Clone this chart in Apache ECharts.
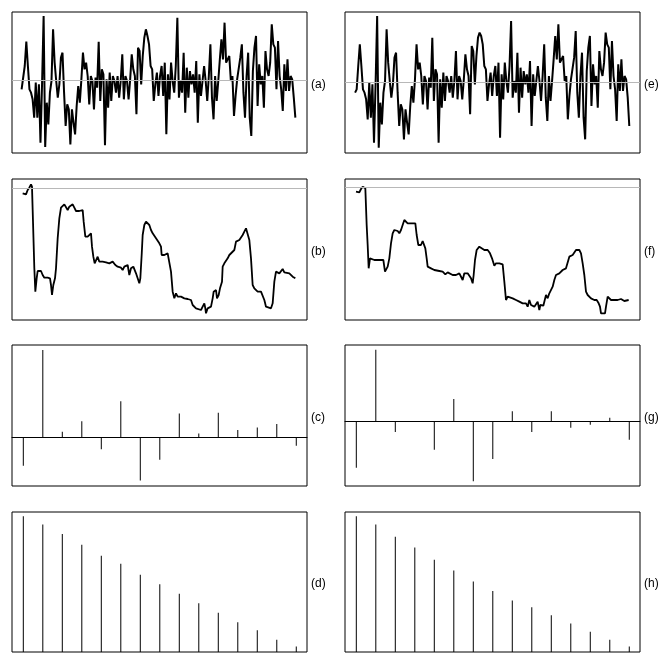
<!DOCTYPE html>
<html>
<head>
<meta charset="utf-8">
<script src="https://cdn.jsdelivr.net/npm/echarts@6/dist/echarts.min.js"></script>
<style>
  html, body { margin: 0; padding: 0; background: #fff; }
  #main { width: 666px; height: 665px; }
</style>
</head>
<body>
<div id="main"></div>
<script>
// (a) and (e): raw series, grey line is the zero level
const seriesA = [-27,-27,43,116,43,-27,-37,-57,-112,-7,-112,-12,-187,-12,193,-200,-67,-132,-37,-2,
  153,53,-2,-52,-12,68,83,-37,-137,-72,-87,-192,-87,-127,-162,-77,-17,-67,3,83,
  33,53,13,-72,13,-2,-87,8,-22,116,-62,33,18,-195,3,-82,23,-62,13,-2,
  -37,13,-52,-2,78,-57,13,-2,-57,3,78,33,13,-102,98,88,-12,73,128,153,
  133,108,43,33,-62,-12,23,-47,13,43,-47,53,-162,18,-57,53,-2,-37,43,188,
  -52,-2,-37,83,-97,38,-52,28,-12,18,-37,58,-127,18,-47,-2,43,-2,-62,13,
  108,-52,-117,13,-62,-2,63,123,63,173,53,48,73,-2,13,-107,-47,3,-2,68,
  108,-37,-112,13,83,-112,-167,28,98,133,-77,48,-12,13,-82,88,33,13,53,168,
  108,98,-27,118,13,-27,-92,48,-32,63,-32,13,3,-52,-112]
const seriesE = [-30,-20,50,115,50,-20,-30,-50,-110,0,-105,-5,-180,-5,200,-195,-60,-125,-30,5,
  160,60,5,-45,-5,75,90,-30,-130,-65,-80,-170,-80,-120,-155,-70,-10,-60,10,115,
  40,60,20,-65,20,5,-80,15,-15,135,-55,40,25,-180,10,-75,30,-55,20,5,
  -30,20,-45,5,95,-50,20,5,-50,10,85,40,20,-95,110,95,-5,80,135,150,
  140,115,50,40,-55,-5,30,-40,20,50,-40,60,-165,25,-50,60,5,-30,50,185,
  -45,5,-30,90,-90,45,-45,35,-5,25,-30,65,-130,25,-40,5,50,5,-55,20,
  115,-45,-115,20,-55,5,70,140,70,175,60,55,80,5,20,-110,-40,10,5,75,
  155,-30,-105,20,90,-105,-170,35,105,140,-70,55,-5,20,-75,95,40,20,60,150,
  115,105,-20,125,20,-20,-115,55,-25,70,-25,20,10,-45,-130]
// (b) and (f): slow level series, grey line is the reference level
const timeB = [0,5,10,15,20,25,28,30,35,38,42,45,55,60,65,75,82,85,88,92,97,100,105,110,115,120,125,130,135,140,
  145,150,155,160,165,170,180,183,188,195,200,205,208,212,216,220,225,230,240,250,260,265,270,278,285,290,295,300,305,310,
  315,320,325,328,332,340,345,350,353,357,360,365,370,375,380,385,390,400,410,415,417,425,435,440,445,450,455,460,465,475,
  485,495,505,510,515,520,525,535,540,545,548,550,555,560,565,570,573,577,580,583,588,592,598,600,605,610,615,620,625,635,
  640,645,650,655,660,665,670,675,680,685,690,695,705,715,720,725,730,735,745,750,755,760,765,770,775,780,785,790,800,805,
  810,815,818]
const levelB = [380,375,377,390,397,407,400,330,155,85,125,147,147,135,127,127,125,105,75,105,125,155,245,305,337,343,347,350,330,340,
  335,347,337,327,328,327,330,295,250,250,250,260,220,190,170,175,190,175,175,173,170,165,175,165,160,155,157,150,160,155,
  165,135,155,160,160,140,125,110,125,195,255,285,295,290,285,270,260,245,230,220,195,195,200,195,145,85,65,80,70,70,
  65,63,60,45,50,35,35,30,40,50,35,20,35,30,40,65,85,85,90,65,75,95,115,160,170,170,185,195,195,210,
  235,240,240,243,255,265,275,270,240,185,105,95,85,85,80,60,40,35,35,50,115,145,140,140,145,153,143,140,140,135,
  130,133,125]
const timeF = [0,5,10,15,20,25,28,32,35,38,42,47,55,65,75,82,87,90,95,100,105,110,115,120,125,130,135,140,145,150,
  155,160,170,178,182,187,195,200,205,208,212,215,220,225,230,235,240,250,260,268,275,280,290,300,310,315,320,325,330,335,
  340,345,350,353,357,362,370,375,385,395,402,408,412,415,420,430,440,445,450,455,460,470,480,490,500,510,515,520,525,535,
  540,545,550,553,557,562,567,570,575,580,585,590,595,600,605,610,620,630,635,640,645,650,655,660,665,670,675,680,685,690,
  695,705,715,722,728,732,735,740,747,750,755,760,765,775,780,785,790,795,800,805,810,818]
const levelF = [385,380,383,393,400,405,395,285,225,155,185,190,180,180,180,180,145,150,160,185,230,260,270,273,267,260,270,285,300,300,
  290,287,290,290,255,225,225,237,240,215,185,160,155,155,150,150,150,147,145,137,143,145,135,135,140,145,120,140,145,140,
  140,125,110,135,180,210,220,215,210,210,200,185,180,163,170,170,167,115,60,70,75,65,60,55,50,50,40,60,45,40,
  38,55,30,45,50,43,63,75,65,80,80,100,120,135,135,140,150,155,160,190,195,195,200,210,213,210,200,170,135,85,
  75,65,60,60,50,40,20,20,20,40,70,65,60,60,57,60,65,63,60,57,57,60]
// (c) (d) (g) (h): coefficients by lag
const lags = [0,1,2,3,4,5,6,7,8,9,10,11,12,13,14]
const stemsC = [-0.33,1.0,0.06,0.18,-0.14,0.41,-0.50,-0.26,0.27,0.04,0.28,0.08,0.11,0.15,-0.10]
const stemsD = [1.0,0.94,0.87,0.79,0.71,0.65,0.57,0.50,0.43,0.36,0.29,0.22,0.16,0.09,0.04]
const stemsG = [-0.65,1.0,-0.15,0,-0.40,0.31,-0.84,-0.53,0.14,-0.15,0.14,-0.09,-0.05,0.05,-0.26]
const stemsH = [1.0,0.94,0.85,0.77,0.68,0.60,0.52,0.45,0.38,0.33,0.27,0.21,0.15,0.09,0.04]

const myChart = echarts.init(document.getElementById('main'))

const cols = [12, 345]
const rows = [[12, 141], [179, 141], [345, 141], [512, 140]]

const grids = []
const xAxes = []
const yAxes = []
const series = []
const texts = []

function greyLine(y) {
  return {
    silent: true,
    symbol: 'none',
    label: { show: false },
    lineStyle: { color: '#b8b8b8', width: 1, type: 'solid' },
    data: [{ yAxis: y }]
  }
}

function addPanel(col, row, xr, yr, zeroAxis, s, label) {
  const i = grids.length
  grids.push({
    left: cols[col], top: rows[row][0], width: 295, height: rows[row][1],
    show: true, borderColor: '#000', borderWidth: 1
  })
  xAxes.push({
    gridIndex: i, type: 'value', min: xr[0], max: xr[1],
    show: zeroAxis,
    axisLine: { show: zeroAxis, onZero: true, lineStyle: { color: '#000', width: 1 } },
    axisTick: { show: false }, axisLabel: { show: false }, splitLine: { show: false }
  })
  yAxes.push({
    gridIndex: i, type: 'value', min: yr[0], max: yr[1], show: false,
    splitLine: { show: false }
  })
  s.xAxisIndex = i
  s.yAxisIndex = i
  series.push(s)
  // panel letter sits just right of the box, a little below its middle
  texts.push({
    type: 'text',
    left: cols[col] + 295 + 4,
    top: rows[row][0] + rows[row][1] / 2 - 4,
    style: { text: label, font: '12px Arial', fill: '#000' }
  })
}

function lineSeries(data, width, grey) {
  const s = {
    type: 'line', data: data, symbol: 'none', animation: false,
    lineStyle: { color: '#000', width: width }
  }
  if (grey !== undefined) s.markLine = greyLine(grey)
  return s
}

function stemSeries(values) {
  return {
    type: 'bar', data: lags.map((l, k) => [l, values[k]]),
    barWidth: 1, itemStyle: { color: '#000' }, animation: false
  }
}

// left column
addPanel(0, 0, [-6.1, 181.4], [-218, 205], false,
  lineSeries(seriesA.map((v, k) => [k, v]), 2, 0), '(a)')
addPanel(0, 1, [-32, 853], [0, 423], false,
  lineSeries(timeB.map((t, k) => [t, levelB[k]]), 1.8, 395), '(b)')
addPanel(0, 2, [-0.58, 14.55], [-0.563, 1.057], true, stemSeries(stemsC), '(c)')
addPanel(0, 3, [-0.58, 14.55], [0, 1.032], false, stemSeries(stemsD), '(d)')
// right column
addPanel(1, 0, [-6.4, 180.8], [-211, 212], false,
  lineSeries(seriesE.map((v, k) => [k, v]), 2, 0), '(e)')
addPanel(1, 1, [-33, 852], [0, 423], false,
  lineSeries(timeF.map((t, k) => [t, levelF[k]]), 1.8, 398), '(f)')
addPanel(1, 2, [-0.58, 14.55], [-0.906, 1.066], true, stemSeries(stemsG), '(g)')
addPanel(1, 3, [-0.58, 14.55], [0, 1.032], false, stemSeries(stemsH), '(h)')

myChart.setOption({
  animation: false,
  backgroundColor: '#fff',
  grid: grids,
  xAxis: xAxes,
  yAxis: yAxes,
  series: series,
  graphic: texts
})
</script>
</body>
</html>
